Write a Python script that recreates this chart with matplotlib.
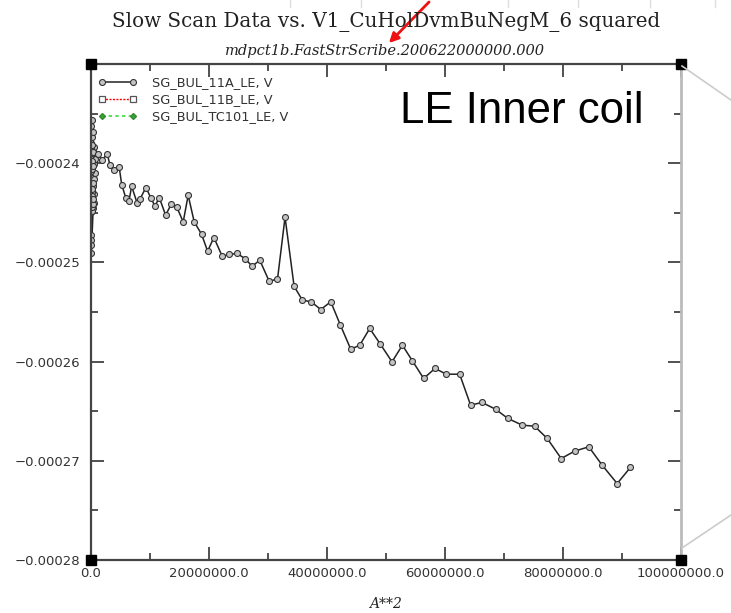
import matplotlib
matplotlib.use("Agg")
import matplotlib.pyplot as plt
from matplotlib.ticker import FixedLocator, FuncFormatter, MultipleLocator
from matplotlib.lines import Line2D

# A**2 values (near-zero cluster first, then the scan)
cluster_x = [0, 12000, 25000, 40000, 55000, 70000, 90000, 110000, 130000, 150000,
             175000, 200000, 225000, 250000, 280000, 310000, 340000, 370000, 400000, 430000,
             460000, 490000, 520000, 550000, 580000, 20000, 30000, 45000, 60000, 610000,
             640000, 15000, 35000, 50000, 65000, 80000, 95000, 105000, 120000, 140000,
             160000, 170000, 185000, 195000, 210000, 230000, 240000, 260000, 270000, 290000,
             300000, 320000]
cluster_y = [-243.5, -238.0, -244.6, -236.3, -241.2, -244.9, -239.5, -235.6, -242.8, -240.4,
             -244.2, -237.4, -241.9, -243.9, -238.8, -240.9, -244.5, -236.9, -242.3, -239.9,
             -243.1, -238.4, -241.6, -244.0, -240.1, -247.2, -247.7, -248.2, -249.1, -241.0,
             -239.6, -240.8, -244.3, -239.2, -243.7, -238.6, -242.9, -240.2, -244.8, -239.0,
             -243.3, -238.2, -242.6, -244.4, -239.8, -243.8, -240.6, -244.1, -238.9, -242.0,
             -243.6, -240.3]

scan_x = [1.24, 1.81, 2.76, 3.22, 3.95, 4.79, 5.20, 5.88, 6.43, 6.89,
          7.84, 8.35, 9.31, 10.11, 10.84, 11.57, 12.65, 13.60, 14.51, 15.63,
          16.47, 17.49, 18.74, 19.76, 20.83, 22.23, 23.42, 24.77, 26.08, 27.31,
          28.61, 30.19, 31.61, 32.89, 34.42, 35.81, 37.37, 38.94, 40.64, 42.28,
          44.02, 45.55, 47.24, 49.05, 51.02, 52.78, 54.47, 56.38, 58.30, 60.23,
          62.48, 64.34, 66.26, 68.57, 70.66, 73.10, 75.18, 77.33, 79.70, 81.95,
          84.37, 86.64, 89.18, 91.43]  # millions
scan_y = [-239.09, -239.70, -239.09, -240.20, -240.71, -240.43, -242.15, -243.46, -243.83, -242.32,
          -244.06, -243.56, -242.45, -243.46, -244.33, -243.46, -245.24, -244.13, -244.39, -245.91,
          -243.23, -245.91, -247.16, -248.87, -247.49, -249.37, -249.20, -249.10, -249.61, -250.38,
          -249.78, -251.89, -251.69, -245.44, -252.40, -253.79, -253.99, -254.75, -253.97, -256.33,
          -258.75, -258.35, -256.66, -258.25, -260.02, -258.35, -259.92, -261.70, -260.69, -261.27,
          -261.27, -264.39, -264.12, -264.80, -265.73, -266.41, -266.51, -267.75, -269.77, -269.03,
          -268.59, -270.44, -272.29, -270.67]  # micro-volts

series_labels = ["SG_BUL_11A_LE, V", "SG_BUL_11B_LE, V", "SG_BUL_TC101_LE, V"]

x_11a = cluster_x + [v * 1e6 for v in scan_x]
y_11a = [v * 1e-6 for v in cluster_y + scan_y]

fig = plt.figure(figsize=(7.31, 6.13), dpi=100)
ax = fig.add_axes([91 / 731, 1 - 560 / 613, 590 / 731, 496 / 613])

ax.plot(x_11a, y_11a, color="#222222", lw=1.1, marker="o", ms=4.3,
        mfc="#c4c4c4", mec="#333333", mew=0.8, label=series_labels[0])
ax.plot([], [], color="red", lw=1.0, ls=(0, (1.5, 1)), marker="s", ms=4.3,
        mfc="white", mec="#555555", mew=0.9, label=series_labels[1])
ax.plot([], [], color="#33dd33", lw=1.2, ls=(0, (2, 2)), marker="D", ms=3,
        mfc="#33aa33", mec="#338833", label=series_labels[2])

ax.set_xlim(0, 1e8)
ax.set_ylim(-0.00028, -0.00023)

ax.xaxis.set_major_locator(MultipleLocator(2e7))
ax.xaxis.set_minor_locator(MultipleLocator(1e7))
ax.xaxis.set_major_formatter(FuncFormatter(lambda v, p: f"{v:.1f}"))
ax.yaxis.set_major_locator(FixedLocator([-0.00028, -0.00027, -0.00026, -0.00025, -0.00024]))
ax.yaxis.set_minor_locator(MultipleLocator(0.000005))
ax.yaxis.set_major_formatter(FuncFormatter(lambda v, p: f"{v:.5f}".replace("-", "\u2212")))

ax.tick_params(which="both", direction="in", top=True, right=True, colors="#333333",
               labelcolor="#333333", labelsize=9.5, width=1.2)
ax.tick_params(which="major", length=9.5, pad=8)
ax.tick_params(which="minor", length=5)
ax.tick_params(axis="x", pad=5)

for side in ["left", "top", "bottom"]:
    ax.spines[side].set_color("#444444")
    ax.spines[side].set_linewidth(1.6)
ax.spines["right"].set_color("#bbbbbb")
ax.spines["right"].set_linewidth(2)

# selection handles at the corners
for cx, cy in [(0, 0), (0, 1), (1, 0), (1, 1)]:
    ax.plot([cx], [cy], marker="s", ms=7, color="black", transform=ax.transAxes, clip_on=False, zorder=10)

ax.legend(loc="upper left", bbox_to_anchor=(0.012, 0.975), frameon=False, fontsize=9.3,
          numpoints=2, handlelength=3.0, handletextpad=1.2, labelspacing=0.3,
          borderpad=0, borderaxespad=0, labelcolor="#333333")

ax.text(0.524, 0.881, "LE Inner coil", transform=ax.transAxes, fontsize=31.5,
        family="Liberation Sans", va="baseline", ha="left")

fig.text(0.528, 0.964, "Slow Scan Data vs. V1_CuHolDvmBuNegM_6 squared",
         family="DejaVu Serif", fontsize=14.3, ha="center", va="center", color="#222222")
fig.text(0.527, 0.916, "mdpct1b.FastStrScribe.200622000000.000",
         family="DejaVu Serif", style="italic", fontsize=10.5, ha="center", va="center", color="#222222")
fig.text(0.528, 0.015, "A**2", family="DejaVu Serif", style="italic", fontsize=10,
         ha="center", va="center", color="#222222")

# background slide decorations
fig.add_artist(Line2D([682 / 731, 1.0], [1 - 66 / 613, 1 - 100 / 613], color="#cccccc", lw=1.2))
fig.add_artist(Line2D([682 / 731, 1.0], [1 - 548 / 613, 1 - 515 / 613], color="#cccccc", lw=1.2))
for gx in [290, 361, 508, 578, 650, 715]:
    fig.add_artist(Line2D([gx / 731, gx / 731], [1.0, 1 - 7 / 613], color="#dddddd", lw=1))

# red arrow pointing at the subtitle
ax.annotate("", xy=(387 / 731, 1 - 45 / 613), xytext=(431 / 731, 1.0),
            xycoords="figure fraction", textcoords="figure fraction",
            arrowprops=dict(arrowstyle="-|>", color="#ee1111", lw=2, mutation_scale=14))

fig.savefig("out.png", dpi=100)
